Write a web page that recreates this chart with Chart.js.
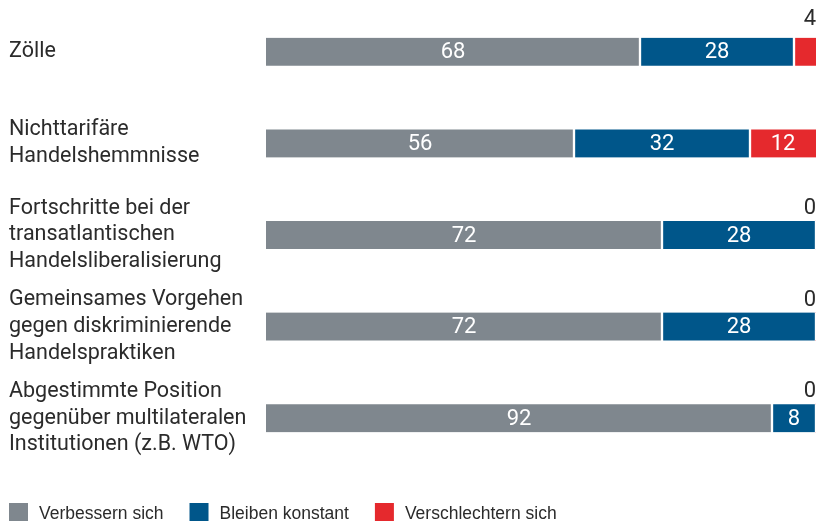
<!DOCTYPE html>
<html>
<head>
<meta charset="utf-8">
<script src="https://cdn.jsdelivr.net/npm/chart.js@4"></script>
<style>
  html, body { margin: 0; padding: 0; background: #ffffff; }
  #wrap { width: 816px; height: 521px; position: relative; }
</style>
</head>
<body>
<div id="wrap"><canvas id="c" width="816" height="521"></canvas></div>
<script>
const categories = [
  ["Zölle"],
  ["Nichttarifäre", "Handelshemmnisse"],
  ["Fortschritte bei der", "transatlantischen", "Handelsliberalisierung"],
  ["Gemeinsames Vorgehen", "gegen diskriminierende", "Handelspraktiken"],
  ["Abgestimmte Position", "gegenüber multilateralen", "Institutionen (z.B. WTO)"]
];
const seriesNames = ["Verbessern sich", "Bleiben konstant", "Verschlechtern sich"];
const verbessern = [68, 56, 72, 72, 92];
const konstant = [28, 32, 28, 28, 8];
const verschlechtern = [4, 12, 0, 0, 0];
const colors = ["#7f878e", "#00568a", "#e5292d"];

const MAIN_FONT = "Roboto, 'DejaVu Sans Condensed', sans-serif";
const LEGEND_FONT = "'Liberation Sans', Roboto, sans-serif";

const valueLabels = {
  id: 'valueLabels',
  afterDatasetsDraw(chart) {
    const ctx = chart.ctx;
    ctx.save();
    ctx.font = "22px " + MAIN_FONT;
    chart.data.datasets.forEach((ds, di) => {
      const meta = chart.getDatasetMeta(di);
      meta.data.forEach((bar, i) => {
        const v = ds.data[i];
        const p = bar.getProps(['x', 'y', 'base', 'height'], true);
        if (v >= 5) {
          ctx.fillStyle = '#ffffff';
          ctx.textAlign = 'center';
          ctx.textBaseline = 'middle';
          ctx.fillText(String(v), (p.x + p.base) / 2, p.y + 1);
        } else {
          ctx.fillStyle = '#2b2b2b';
          ctx.textAlign = 'right';
          ctx.textBaseline = 'alphabetic';
          const gap = v === 0 ? 7 : 13;
          ctx.fillText(String(v), Math.max(p.x, p.base), p.y - p.height / 2 - gap);
        }
      });
    });
    ctx.restore();
  }
};

const customLegend = {
  id: 'customLegend',
  afterDraw(chart) {
    const ctx = chart.ctx;
    ctx.save();
    ctx.font = "17.5px " + LEGEND_FONT;
    ctx.textBaseline = 'middle';
    ctx.textAlign = 'left';
    let x = 9;
    const yTop = 503, box = 19, yMid = 514;
    chart.data.datasets.forEach((ds) => {
      ctx.fillStyle = ds.backgroundColor;
      ctx.fillRect(x, yTop, box, box);
      ctx.fillStyle = '#2b2b2b';
      ctx.fillText(ds.label, x + box + 11, yMid);
      x += box + 11 + ctx.measureText(ds.label).width + 26;
    });
    ctx.restore();
  }
};

new Chart(document.getElementById('c'), {
  type: 'bar',
  data: {
    labels: categories,
    datasets: [
      { label: seriesNames[0], data: verbessern, backgroundColor: colors[0],
        borderColor: '#ffffff', borderWidth: { top: 0, bottom: 0, left: 0, right: 1.5 }, borderSkipped: false },
      { label: seriesNames[1], data: konstant, backgroundColor: colors[1],
        borderColor: '#ffffff', borderWidth: { top: 0, bottom: 0, left: 1.5, right: 1.5 }, borderSkipped: false },
      { label: seriesNames[2], data: verschlechtern, backgroundColor: colors[2],
        borderColor: '#ffffff', borderWidth: { top: 0, bottom: 0, left: 1.5, right: 0 }, borderSkipped: false }
    ]
  },
  options: {
    indexAxis: 'y',
    responsive: false,
    animation: false,
    devicePixelRatio: 1,
    barThickness: 28,
    layout: { padding: { left: 9, right: 0, top: 6, bottom: 57 } },
    plugins: {
      legend: { display: false },
      tooltip: { enabled: false }
    },
    scales: {
      x: { stacked: true, min: 0, max: 100, display: false },
      y: {
        stacked: true,
        grid: { display: false },
        border: { display: false },
        afterFit(scale) {
          scale.width = 257;
          scale.paddingTop = 0;
          scale.paddingBottom = 0;
        },
        ticks: {
          crossAlign: 'far',
          padding: 0,
          color: '#2b2b2b',
          font: { family: MAIN_FONT, size: 21.5, lineHeight: 1.24 }
        }
      }
    }
  },
  plugins: [valueLabels, customLegend]
});
</script>
</body>
</html>
